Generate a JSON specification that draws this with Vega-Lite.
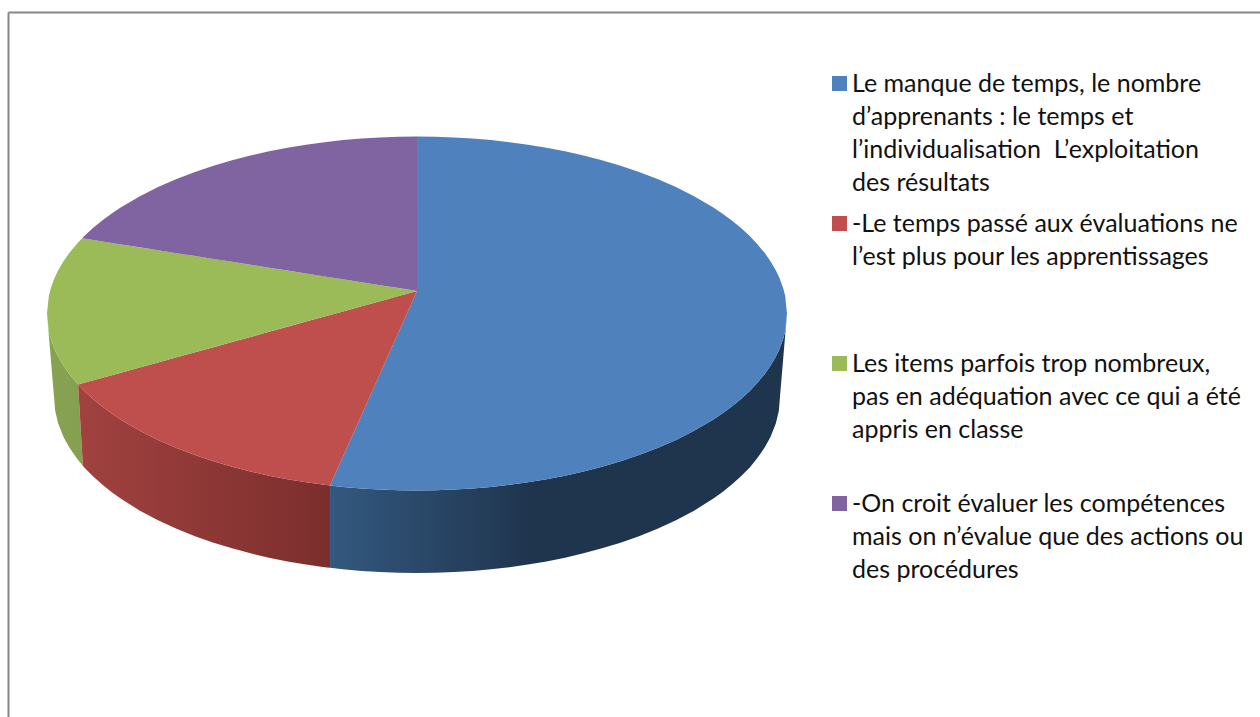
{"$schema":"https://vega.github.io/schema/vega-lite/v6.json","width":1252,"height":705,"padding":{"left":8,"top":12,"right":0,"bottom":0},"autosize":{"type":"none"},"background":"white","config":{"view":{"stroke":null},"style":{"guide-label":{"lineHeight":33}}},
"datasets":{"side":[
{"s":"c","x":-100,"y":0,"y2":0},{"s":"c","x":-99.5,"y":-9.99,"y2":-12.4},{"s":"c","x":-99,"y":-14.11,"y2":-24.84},{"s":"c","x":-98.1,"y":-19.4,"y2":-47.2},{"s":"c","x":-97.8,"y":-20.86,"y2":-54.96},{"s":"c","x":-97,"y":-24.31,"y2":-62},{"s":"c","x":-95.5,"y":-29.66,"y2":-69.93},{"s":"c","x":-94,"y":-34.12,"y2":-75.6},{"s":"c","x":-92,"y":-39.19,"y2":-81.71},{"s":"c","x":-91.6,"y":-40.1,"y2":-82.8},{"s":"c","x":-90.3,"y":-86,"y2":-86},
{"s":"b","x":-91.6,"y":-40.1,"y2":-40.1},{"s":"b","x":-90.3,"y":-42.9,"y2":-86},{"s":"b","x":-90,"y":-43.59,"y2":-86.8},{"s":"b","x":-87.5,"y":-48.41,"y2":-92.14},{"s":"b","x":-85,"y":-52.68,"y2":-96.8},{"s":"b","x":-82.5,"y":-56.52,"y2":-100.98},{"s":"b","x":-80,"y":-60,"y2":-104.7},{"s":"b","x":-75,"y":-66.14,"y2":-111.27},{"s":"b","x":-70,"y":-71.41,"y2":-116.8},{"s":"b","x":-65,"y":-75.99,"y2":-121.65},{"s":"b","x":-60,"y":-80,"y2":-125.8},{"s":"b","x":-55,"y":-83.52,"y2":-129.51},{"s":"b","x":-50,"y":-86.6,"y2":-132.7},{"s":"b","x":-45,"y":-89.3,"y2":-135.52},{"s":"b","x":-40,"y":-91.65,"y2":-137.96},{"s":"b","x":-35,"y":-93.67,"y2":-140.06},{"s":"b","x":-30,"y":-95.39,"y2":-141.8},{"s":"b","x":-25,"y":-96.82,"y2":-143.32},{"s":"b","x":-23.5,"y":-97.2,"y2":-143.7},
{"s":"a","x":-23.5,"y":-97.2,"y2":-143.7},{"s":"a","x":-20,"y":-97.98,"y2":-144.5},{"s":"a","x":-15,"y":-98.87,"y2":-145.43},{"s":"a","x":-10,"y":-99.5,"y2":-146.1},{"s":"a","x":-5,"y":-99.87,"y2":-146.47},{"s":"a","x":0,"y":-100,"y2":-146.6},{"s":"a","x":5,"y":-99.87,"y2":-146.47},{"s":"a","x":10,"y":-99.5,"y2":-146.1},{"s":"a","x":15,"y":-98.87,"y2":-145.43},{"s":"a","x":20,"y":-97.98,"y2":-144.5},{"s":"a","x":25,"y":-96.82,"y2":-143.32},{"s":"a","x":30,"y":-95.39,"y2":-141.8},{"s":"a","x":35,"y":-93.67,"y2":-140.06},{"s":"a","x":40,"y":-91.65,"y2":-137.96},{"s":"a","x":45,"y":-89.3,"y2":-135.52},{"s":"a","x":50,"y":-86.6,"y2":-132.7},{"s":"a","x":55,"y":-83.52,"y2":-129.51},{"s":"a","x":60,"y":-80,"y2":-125.8},{"s":"a","x":65,"y":-75.99,"y2":-121.65},{"s":"a","x":70,"y":-71.41,"y2":-116.8},{"s":"a","x":75,"y":-66.14,"y2":-111.27},{"s":"a","x":80,"y":-60,"y2":-104.7},{"s":"a","x":82.5,"y":-56.52,"y2":-100.98},{"s":"a","x":85,"y":-52.68,"y2":-96.8},{"s":"a","x":87.5,"y":-48.41,"y2":-92.14},{"s":"a","x":90,"y":-43.59,"y2":-86.8},{"s":"a","x":92,"y":-39.19,"y2":-81.71},{"s":"a","x":94,"y":-34.12,"y2":-75.6},{"s":"a","x":95.5,"y":-29.66,"y2":-69.93},{"s":"a","x":97,"y":-24.31,"y2":-62},{"s":"a","x":97.8,"y":-20.86,"y2":-54.96},{"s":"a","x":98.1,"y":-19.4,"y2":-47.2},{"s":"a","x":99,"y":-14.11,"y2":-24.84},{"s":"a","x":99.5,"y":-9.99,"y2":-12.4},{"s":"a","x":100,"y":0,"y2":0}
],"top":[
{"s":"a","x":-23.5,"y":-97.2,"y2":-97.2},{"s":"a","x":-20,"y":-80.84,"y2":-97.98},{"s":"a","x":-15,"y":-57.46,"y2":-98.87},{"s":"a","x":-10,"y":-34.07,"y2":-99.5},{"s":"a","x":-5,"y":-10.69,"y2":-99.87},{"s":"a","x":0,"y":12.7,"y2":-100},{"s":"a","x":0.01,"y":100,"y2":-100},{"s":"a","x":5,"y":99.87,"y2":-99.87},{"s":"a","x":10,"y":99.5,"y2":-99.5},{"s":"a","x":15,"y":98.87,"y2":-98.87},{"s":"a","x":20,"y":97.98,"y2":-97.98},{"s":"a","x":25,"y":96.82,"y2":-96.82},{"s":"a","x":30,"y":95.39,"y2":-95.39},{"s":"a","x":35,"y":93.67,"y2":-93.67},{"s":"a","x":40,"y":91.65,"y2":-91.65},{"s":"a","x":45,"y":89.3,"y2":-89.3},{"s":"a","x":50,"y":86.6,"y2":-86.6},{"s":"a","x":55,"y":83.52,"y2":-83.52},{"s":"a","x":60,"y":80,"y2":-80},{"s":"a","x":65,"y":75.99,"y2":-75.99},{"s":"a","x":70,"y":71.41,"y2":-71.41},{"s":"a","x":75,"y":66.14,"y2":-66.14},{"s":"a","x":80,"y":60,"y2":-60},{"s":"a","x":82.5,"y":56.52,"y2":-56.52},{"s":"a","x":85,"y":52.68,"y2":-52.68},{"s":"a","x":87.5,"y":48.41,"y2":-48.41},{"s":"a","x":90,"y":43.59,"y2":-43.59},{"s":"a","x":92,"y":39.19,"y2":-39.19},{"s":"a","x":94,"y":34.12,"y2":-34.12},{"s":"a","x":95.5,"y":29.66,"y2":-29.66},{"s":"a","x":97,"y":24.31,"y2":-24.31},{"s":"a","x":98,"y":19.9,"y2":-19.9},{"s":"a","x":99,"y":14.11,"y2":-14.11},{"s":"a","x":99.5,"y":9.99,"y2":-9.99},{"s":"a","x":100,"y":0,"y2":0},
{"s":"b","x":-91.6,"y":-40.1,"y2":-40.1},{"s":"b","x":-90,"y":-39.18,"y2":-43.59},{"s":"b","x":-87.5,"y":-37.74,"y2":-48.41},{"s":"b","x":-85,"y":-36.29,"y2":-52.68},{"s":"b","x":-82.5,"y":-34.85,"y2":-56.52},{"s":"b","x":-80,"y":-33.41,"y2":-60},{"s":"b","x":-75,"y":-30.53,"y2":-66.14},{"s":"b","x":-70,"y":-27.65,"y2":-71.41},{"s":"b","x":-65,"y":-24.77,"y2":-75.99},{"s":"b","x":-60,"y":-21.88,"y2":-80},{"s":"b","x":-55,"y":-19,"y2":-83.52},{"s":"b","x":-50,"y":-16.12,"y2":-86.6},{"s":"b","x":-45,"y":-13.24,"y2":-89.3},{"s":"b","x":-40,"y":-10.36,"y2":-91.65},{"s":"b","x":-35,"y":-7.47,"y2":-93.67},{"s":"b","x":-30,"y":-4.59,"y2":-95.39},{"s":"b","x":-25,"y":-1.71,"y2":-96.82},{"s":"b","x":-23.5,"y":-0.85,"y2":-97.2},{"s":"b","x":-20,"y":1.17,"y2":-80.84},{"s":"b","x":-15,"y":4.05,"y2":-57.46},{"s":"b","x":-10,"y":6.94,"y2":-34.07},{"s":"b","x":-5,"y":9.82,"y2":-10.69},{"s":"b","x":0,"y":12.7,"y2":12.7},
{"s":"c","x":-100,"y":0,"y2":0},{"s":"c","x":-99.5,"y":9.99,"y2":-9.99},{"s":"c","x":-99,"y":14.11,"y2":-14.11},{"s":"c","x":-98,"y":19.9,"y2":-19.9},{"s":"c","x":-97,"y":24.31,"y2":-24.31},{"s":"c","x":-95.5,"y":29.66,"y2":-29.66},{"s":"c","x":-94,"y":34.12,"y2":-34.12},{"s":"c","x":-92,"y":39.19,"y2":-39.19},{"s":"c","x":-91.6,"y":40.1,"y2":-40.1},{"s":"c","x":-90.5,"y":42.5,"y2":-39.47},{"s":"c","x":-90,"y":42.34,"y2":-39.18},{"s":"c","x":-80,"y":39.04,"y2":-33.41},{"s":"c","x":-70,"y":35.75,"y2":-27.65},{"s":"c","x":-60,"y":32.46,"y2":-21.88},{"s":"c","x":-50,"y":29.17,"y2":-16.12},{"s":"c","x":-40,"y":25.87,"y2":-10.36},{"s":"c","x":-30,"y":22.58,"y2":-4.59},{"s":"c","x":-20,"y":19.29,"y2":1.17},{"s":"c","x":-10,"y":15.99,"y2":6.94},{"s":"c","x":0,"y":12.7,"y2":12.7},
{"s":"d","x":-90.5,"y":42.5,"y2":42.5},{"s":"d","x":-90,"y":43.59,"y2":42.34},{"s":"d","x":-87.5,"y":48.41,"y2":41.51},{"s":"d","x":-85,"y":52.68,"y2":40.69},{"s":"d","x":-82.5,"y":56.52,"y2":39.87},{"s":"d","x":-80,"y":60,"y2":39.04},{"s":"d","x":-75,"y":66.14,"y2":37.4},{"s":"d","x":-70,"y":71.41,"y2":35.75},{"s":"d","x":-65,"y":75.99,"y2":34.1},{"s":"d","x":-60,"y":80,"y2":32.46},{"s":"d","x":-55,"y":83.52,"y2":30.81},{"s":"d","x":-50,"y":86.6,"y2":29.17},{"s":"d","x":-45,"y":89.3,"y2":27.52},{"s":"d","x":-40,"y":91.65,"y2":25.87},{"s":"d","x":-35,"y":93.67,"y2":24.23},{"s":"d","x":-30,"y":95.39,"y2":22.58},{"s":"d","x":-25,"y":96.82,"y2":20.93},{"s":"d","x":-20,"y":97.98,"y2":19.29},{"s":"d","x":-15,"y":98.87,"y2":17.64},{"s":"d","x":-10,"y":99.5,"y2":15.99},{"s":"d","x":-5,"y":99.87,"y2":14.35},{"s":"d","x":0,"y":100,"y2":12.7}
]},
"encoding":{"x":{"field":"x","type":"quantitative","title":null,"scale":{"domain":[-110.54,227.84],"nice":false,"zero":false},"axis":{"orient":"top","domain":true,"domainColor":"#868686","domainWidth":2,"ticks":false,"labels":false,"grid":false}},"y":{"field":"y","type":"quantitative","title":null,"stack":null,"scale":{"domain":[-227.97,170.34],"nice":false,"zero":false},"axis":{"orient":"left","domain":true,"domainColor":"#868686","domainWidth":2,"ticks":false,"labels":false,"grid":false}},"y2":{"field":"y2"}},
"layer":[
{"data":{"name":"side"},"transform":[{"filter":"datum.s=='c'"}],"mark":{"type":"area","orient":"vertical","fill":{"x1":0,"y1":0,"x2":1,"y2":0,"gradient":"linear","stops":[{"offset":0,"color":"#87a352"},{"offset":1,"color":"#84a050"}]}}},
{"data":{"name":"side"},"transform":[{"filter":"datum.s=='b'"}],"mark":{"type":"area","orient":"vertical","fill":{"x1":0,"y1":0,"x2":1,"y2":0,"gradient":"linear","stops":[{"offset":0,"color":"#a1423f"},{"offset":1,"color":"#7b2e2d"}]}}},
{"data":{"name":"side"},"transform":[{"filter":"datum.s=='a'"}],"mark":{"type":"area","orient":"vertical","fill":{"x1":0,"y1":0,"x2":1,"y2":0,"gradient":"linear","stops":[{"offset":0,"color":"#33587f"},{"offset":0.45,"color":"#1f344d"},{"offset":1,"color":"#1f344d"}]}}},
{"data":{"name":"top"},"mark":{"type":"area","orient":"vertical"},"encoding":{"color":{"field":"s","type":"nominal","scale":{"domain":["a","b","c","d"],"range":["#4F81BD","#BE4F4C","#9BBB59","#8064A2"]},"legend":{"title":null,"orient":"none","legendX":819,"legendY":59,"symbolType":"square","symbolSize":225,"symbolStrokeWidth":0,"labelFont":"Lato","labelFontSize":25,"labelColor":"#111111","labelLimit":0,"labelOffset":0,"rowPadding":15,"labelExpr":"datum.label=='a'?['Le manque de temps, le nombre','d’apprenants : le temps et','l’individualisation\u00a0\u00a0L’exploitation','des résultats']:datum.label=='b'?['-Le temps passé aux évaluations ne','l’est plus pour les apprentissages',' ',' ']:datum.label=='c'?['\u2005Les items parfois trop nombreux,','pas en adéquation avec ce qui a été','appris en classe',' ']:['-On croit évaluer les compétences','mais on n’évalue que des actions ou','des procédures',' ']"}}}}
]}
